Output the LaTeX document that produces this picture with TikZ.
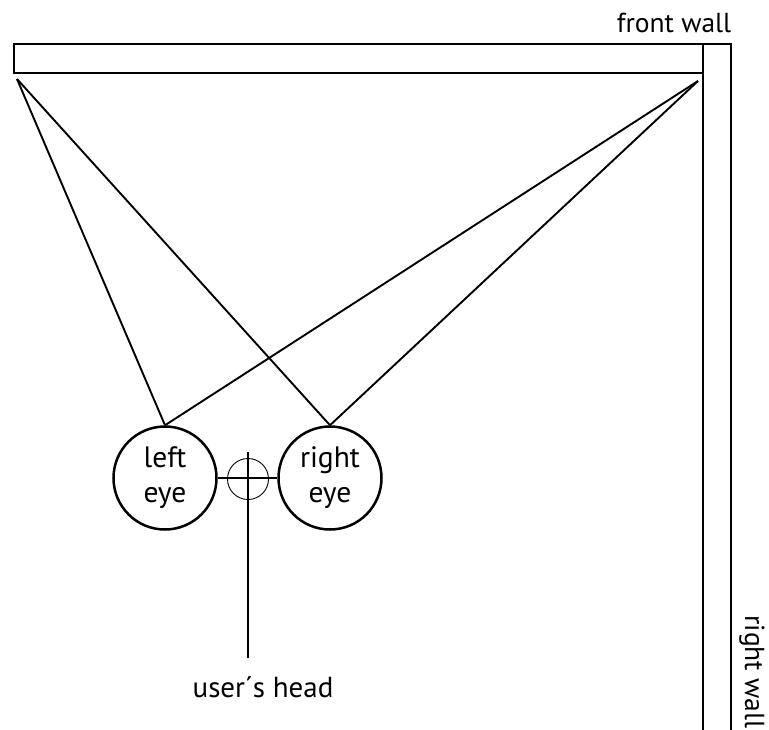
\documentclass[tikz,border=0pt]{standalone}
\usepackage{fontspec}
\setmainfont{PT Sans}
\begin{document}
\begin{tikzpicture}[x=1pt,y=-1pt,
  wall/.style={draw=black,line width=2.4pt},
  ray/.style={draw=black,line width=1.9pt},
  eye/.style={circle,draw=black,line width=2.5pt,minimum size=103pt,inner sep=0pt,align=center,font=\fontsize{29.5}{35}\selectfont},
  label/.style={font=\fontsize{27.5}{33}\selectfont,inner sep=0pt}]
\useasboundingbox (0,0) rectangle (769,729);
% walls
\draw[wall] (14,44) rectangle (703,73);
\draw[wall] (703,44) -- (731,44) -- (731,735);
\draw[wall] (703,73) -- (703,735);
\node[label,anchor=base] (front) at (674,32) {front wall};
\node[label,anchor=base,rotate=-90] (rwall) at (745,672) {right wall};
% screen corners
\coordinate (lc) at (17,79);
\coordinate (rc) at (698,81);
% eyes
\node[eye] (le) at (165,478) {left\\eye};
\node[eye] (re) at (330,478) {right\\eye};
% head centre
\node[circle,draw=black,line width=0.9pt,minimum size=41pt,inner sep=0pt] (hc) at (248,479) {};
\draw[ray] (le.east) -- (re.west);
\coordinate (htop) at (248,452);
\coordinate (hbot) at (248,658);
\draw[ray] (htop) -- (hbot);
\node[label,font=\fontsize{29}{34}\selectfont,anchor=base] (head) at (263,697) {user´s head};
% sight lines
\draw[ray] (le.north) -- (lc);
\draw[ray] (le.north) -- (rc);
\draw[ray] (re.north) -- (lc);
\draw[ray] (re.north) -- (rc);
\end{tikzpicture}
\end{document}
